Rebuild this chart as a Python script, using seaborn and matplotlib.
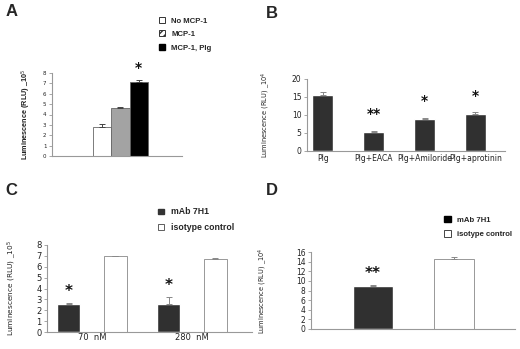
import numpy as np
import pandas as pd
import matplotlib
matplotlib.use("Agg")
import matplotlib.pyplot as plt
from matplotlib.patches import Patch
import seaborn as sns

# panel A
a_labels = ["No MCP-1", "MCP-1", "MCP-1, Plg"]
a_values = [2.8, 4.65, 7.1]
a_errors = [0.25, 0.1, 0.25]
a_stars = ["", "", "*"]

# panel B
b_labels = ["Plg", "Plg+EACA", "Plg+Amiloride", "Plg+aprotinin"]
b_values = [15.6, 5.3, 9.0, 10.4]
b_errors = [0.7, 0.3, 0.15, 0.3]
b_stars = ["", "**", "*", "*"]

# panel C
c_conc = ["70  nM", "70  nM", "280  nM", "280  nM"]
c_group = ["mAb 7H1", "isotype control", "mAb 7H1", "isotype control"]
c_values = [2.55, 6.95, 2.6, 6.75]
c_errors = [0.15, 0.02, 0.65, 0.05]
c_stars = ["*", "", "*", ""]

# panel D
d_labels = ["mAb 7H1", "isotype control"]
d_values = [8.9, 14.6]
d_errors = [0.2, 0.4]
d_stars = ["**", ""]

sns.set_theme(style="white")
plt.rcParams["font.family"] = ["DejaVu Sans"]

W, H = 520, 349
fig = plt.figure(figsize=(W / 100, H / 100), dpi=100)
fig.patch.set_facecolor("white")
LEG_FONT = {"family": "Liberation Sans", "size": 6, "weight": "bold"}


def px_axes(x0, x1, ytop, ybot):
    return fig.add_axes([x0 / W, 1 - ybot / H, (x1 - x0) / W, (ybot - ytop) / H])


def style_axis(ax, tick_size, spine_col="#999999"):
    sns.despine(ax=ax)
    for s in ["left", "bottom"]:
        ax.spines[s].set_color(spine_col)
        ax.spines[s].set_linewidth(0.8)
    ax.tick_params(axis="y", left=True, length=2, width=0.6, color=spine_col,
                   labelsize=tick_size, pad=2, labelcolor="#222222")
    ax.tick_params(axis="x", bottom=False, length=0, labelsize=tick_size, pad=2,
                   labelcolor="#222222")
    ax.set_xlabel("")


def add_errors(ax, bars, errs, color):
    xs = [b.get_x() + b.get_width() / 2 for b in bars]
    tops = [b.get_height() for b in bars]
    ax.errorbar(xs, tops, yerr=[np.zeros(len(errs)), errs], fmt="none",
                ecolor=color, elinewidth=0.7, capsize=2.2, capthick=0.7)
    return xs, tops


def add_stars(ax, xs, tops, errs, stars, offset, size):
    for x, t, e, s in zip(xs, tops, errs, stars):
        if s:
            ax.text(x, t + e + offset, s, ha="center", va="center", fontsize=size,
                    fontweight="bold", color="#111111", clip_on=False)


# ---------- A ----------
axA = px_axes(52, 182, 73, 156)
dfA = pd.DataFrame({"cond": a_labels, "val": a_values})
sns.barplot(data=dfA, x="cond", y="val", hue="cond", palette=["white", "#a3a3a3", "black"],
            width=1.0, edgecolor="#666666", linewidth=0.6, legend=False, ax=axA)
axA.set_xlim(-2.74, 4.36)
axA.set_ylim(0, 8)
axA.set_yticks(range(0, 9))
axA.set_xticks([])
style_axis(axA, 4)
axA.set_ylabel("Luminescence (RLU) _10$^5$", fontsize=5.2, fontweight="bold",
               family="Liberation Sans", color="#222222", labelpad=7)
xs, tops = add_errors(axA, axA.patches, a_errors, "#444444")
add_stars(axA, xs, tops, a_errors, a_stars, 1.15, 10)
hA = [Patch(facecolor="white", edgecolor="#333333", linewidth=0.7),
      Patch(facecolor="white", edgecolor="#333333", hatch="/////", linewidth=0.7),
      Patch(facecolor="black", edgecolor="black")]
axA.legend(hA, a_labels, loc="upper left", bbox_to_anchor=(155 / W, 1 - 13 / H),
           bbox_transform=fig.transFigure, frameon=False, handlelength=0.8,
           handleheight=0.8, handletextpad=0.8, labelspacing=0.75,
           prop=dict(LEG_FONT, size=5.6), borderpad=0)
fig.text(6 / W, 1 - 4 / H, "A", fontsize=12, fontweight="bold",
         family="Liberation Sans", va="top", ha="left")

# ---------- B ----------
axB = px_axes(307, 505, 79, 151)
dfB = pd.DataFrame({"cond": b_labels, "val": b_values})
sns.barplot(data=dfB, x="cond", y="val", color="#303030", width=0.42,
            saturation=1, ax=axB)
axB.set_xlim(-0.31, 3.58)
axB.set_ylim(0, 20)
axB.set_yticks([0, 5, 10, 15, 20])
style_axis(axB, 5.5)
axB.set_ylabel("Luminescence (RLU) _10$^4$", fontsize=4.8, color="#222222", labelpad=14)
xs, tops = add_errors(axB, axB.patches, b_errors, "#888888")
add_stars(axB, xs, tops, b_errors, b_stars, 4.6, 10)
fig.text(266 / W, 1 - 6 / H, "B", fontsize=12, fontweight="bold",
         family="Liberation Sans", va="top", ha="left")

# ---------- C ----------
axC = px_axes(47, 252, 245, 332)
dfC = pd.DataFrame({"conc": c_conc, "ab": c_group, "val": c_values})
sns.barplot(data=dfC, x="conc", y="val", hue="ab", palette=["#303030", "white"],
            width=0.93, gap=0.5, saturation=1, legend=False, ax=axC)
for b in axC.patches:
    if b.get_facecolor()[0] > 0.5:
        b.set_edgecolor("#888888")
        b.set_linewidth(0.6)
axC.set_xlim(-0.45, 1.6)
axC.set_ylim(0, 8)
axC.set_yticks(range(0, 9))
style_axis(axC, 6)
axC.tick_params(axis="x", pad=1)
axC.set_ylabel("Luminescence (RLU) _10$^5$", fontsize=5.3, color="#222222", labelpad=13)
bars = sorted(axC.patches, key=lambda b: b.get_x())
xs, tops = add_errors(axC, bars, c_errors, "#888888")
add_stars(axC, xs, tops, c_errors, c_stars, 1.0, 11)
hC = [Patch(facecolor="#333333", edgecolor="#333333"),
      Patch(facecolor="white", edgecolor="#444444", linewidth=0.6)]
axC.legend(hC, ["mAb 7H1", "isotype control"], loc="upper left",
           bbox_to_anchor=(154 / W, 1 - 203 / H), bbox_transform=fig.transFigure,
           frameon=False, handlelength=0.6, handleheight=0.6, handletextpad=0.8,
           labelspacing=0.75, prop=dict(LEG_FONT, size=6.3), borderpad=0)
fig.text(5 / W, 1 - 183 / H, "C", fontsize=12, fontweight="bold",
         family="Liberation Sans", va="top", ha="left")

# ---------- D ----------
axD = px_axes(311, 515, 252, 329)
dfD = pd.DataFrame({"ab": d_labels, "val": d_values})
sns.barplot(data=dfD, x="ab", y="val", hue="ab", palette=["#303030", "white"],
            width=0.49, saturation=1, legend=False, ax=axD)
for b in axD.patches:
    if b.get_facecolor()[0] > 0.5:
        b.set_edgecolor("#888888")
        b.set_linewidth(0.6)
axD.set_xlim(-0.765, 1.753)
axD.set_ylim(0, 16)
axD.set_yticks(range(0, 17, 2))
axD.set_xticks([])
style_axis(axD, 5.5)
axD.set_ylabel("Luminescence (RLU) _10$^4$", fontsize=4.8, color="#222222", labelpad=19)
xs, tops = add_errors(axD, axD.patches, d_errors, "#888888")
add_stars(axD, xs, tops, d_errors, d_stars, 2.4, 11)
hD = [Patch(facecolor="black", edgecolor="black"),
      Patch(facecolor="white", edgecolor="#444444", linewidth=0.7)]
axD.legend(hD, d_labels, loc="upper left", bbox_to_anchor=(440 / W, 1 - 212 / H),
           bbox_transform=fig.transFigure, frameon=False, handlelength=0.9,
           handleheight=0.9, handletextpad=0.8, labelspacing=0.85,
           prop=dict(LEG_FONT, size=5.6), borderpad=0)
fig.text(266 / W, 1 - 183 / H, "D", fontsize=12, fontweight="bold",
         family="Liberation Sans", va="top", ha="left")

fig.savefig("out.png", dpi=100)
